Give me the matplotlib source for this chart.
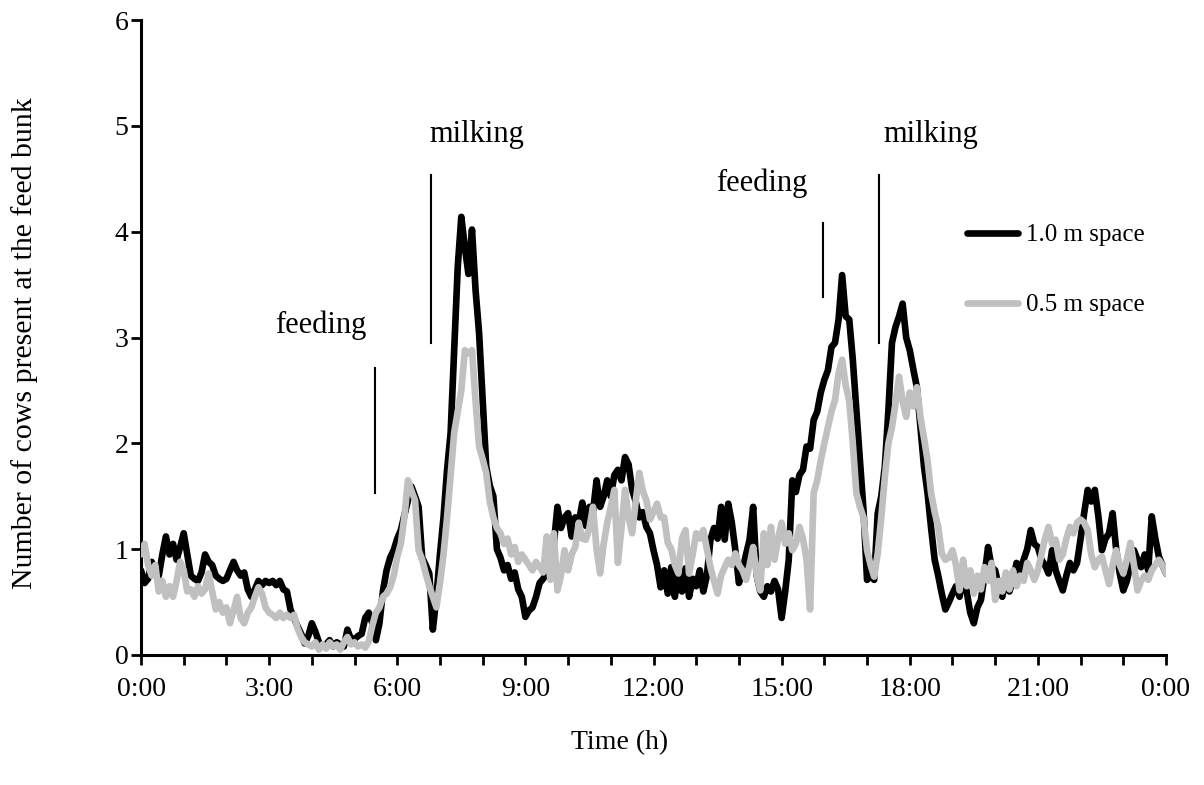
import numpy as np
import matplotlib
matplotlib.use("Agg")
import matplotlib.pyplot as plt

plt.rcParams['font.family'] = ['Liberation Serif', 'DejaVu Serif']

# time in hours, 5-minute steps (0:00 .. 24:00)
hours = np.arange(289) / 12.0

space_1_0 = [
    0.80, 0.68, 0.72, 0.88, 0.80, 0.75, 0.95, 1.12, 0.95, 1.05, 0.90, 1.02,   # 0h
    1.15, 0.95, 0.75, 0.72, 0.70, 0.78, 0.95, 0.88, 0.85, 0.75, 0.72, 0.70,   # 1h
    0.72, 0.80, 0.88, 0.80, 0.75, 0.78, 0.62, 0.55, 0.62, 0.70, 0.66, 0.70,   # 2h
    0.68, 0.70, 0.66, 0.70, 0.62, 0.60, 0.43, 0.35, 0.27, 0.20, 0.11, 0.18,   # 3h
    0.30, 0.22, 0.12, 0.08, 0.10, 0.14, 0.08, 0.12, 0.10, 0.08, 0.24, 0.15,   # 4h
    0.15, 0.18, 0.20, 0.35, 0.40, 0.30, 0.14, 0.30, 0.61, 0.80, 0.92, 0.99,   # 5h
    1.10, 1.18, 1.32, 1.46, 1.59, 1.50, 1.40, 0.92, 0.85, 0.77, 0.24, 0.55,   # 6h
    0.95, 1.30, 1.75, 2.10, 2.88, 3.67, 4.14, 3.85, 3.60, 4.02, 3.45, 3.04,   # 7h
    2.41, 1.78, 1.60, 1.50, 1.00, 0.92, 0.80, 0.85, 0.72, 0.78, 0.62, 0.55,   # 8h
    0.36, 0.42, 0.45, 0.55, 0.68, 0.72, 0.77, 0.95, 1.05, 1.40, 1.20, 1.30,   # 9h
    1.34, 1.12, 1.30, 1.25, 1.44, 1.22, 1.40, 1.35, 1.65, 1.40, 1.50, 1.65,   # 10h
    1.50, 1.70, 1.75, 1.65, 1.87, 1.80, 1.56, 1.45, 1.30, 1.35, 1.21, 1.15,   # 11h
    0.99, 0.85, 0.64, 0.80, 0.58, 0.83, 0.55, 0.78, 0.60, 0.82, 0.55, 0.72,   # 12h
    0.65, 0.80, 0.60, 0.75, 1.09, 1.20, 1.10, 1.40, 1.09, 1.43, 1.25, 0.99,   # 13h
    0.68, 0.80, 0.95, 1.09, 1.40, 0.75, 0.60, 0.55, 0.65, 0.60, 0.70, 0.62,   # 14h
    0.35, 0.60, 0.90, 1.65, 1.54, 1.70, 1.75, 1.97, 1.95, 2.22, 2.30, 2.48,   # 15h
    2.60, 2.69, 2.91, 2.95, 3.17, 3.59, 3.20, 3.17, 2.79, 2.31, 1.84, 1.37,   # 16h
    0.71, 0.75, 0.71, 1.34, 1.50, 1.78, 2.31, 2.95, 3.10, 3.20, 3.32, 3.00,   # 17h
    2.88, 2.70, 2.53, 2.15, 1.78, 1.53, 1.20, 0.90, 0.75, 0.58, 0.43, 0.50,   # 18h
    0.58, 0.65, 0.55, 0.75, 0.60, 0.40, 0.30, 0.45, 0.52, 0.75, 1.02, 0.83,   # 19h
    0.80, 0.65, 0.55, 0.75, 0.60, 0.70, 0.87, 0.80, 0.90, 1.00, 1.18, 1.05,   # 20h
    1.02, 0.90, 0.85, 0.77, 0.99, 0.80, 0.70, 0.61, 0.75, 0.87, 0.80, 0.87,   # 21h
    1.10, 1.34, 1.56, 1.45, 1.56, 1.31, 0.99, 1.10, 1.15, 1.34, 1.00, 0.77,   # 22h
    0.61, 0.70, 0.85, 0.99, 0.90, 0.83, 0.95, 0.80, 1.31, 1.10, 0.93, 0.85,   # 23h
    0.77,
]

space_0_5 = [
    0.95, 1.05, 0.85, 0.75, 0.85, 0.60, 0.70, 0.55, 0.65, 0.55, 0.70, 0.88,   # 0h
    0.80, 0.60, 0.62, 0.55, 0.65, 0.58, 0.62, 0.77, 0.60, 0.43, 0.50, 0.40,   # 1h
    0.45, 0.30, 0.42, 0.55, 0.35, 0.30, 0.40, 0.45, 0.55, 0.64, 0.58, 0.45,   # 2h
    0.40, 0.38, 0.35, 0.40, 0.35, 0.38, 0.35, 0.38, 0.25, 0.17, 0.12, 0.10,   # 3h
    0.08, 0.12, 0.05, 0.10, 0.06, 0.12, 0.08, 0.10, 0.05, 0.12, 0.17, 0.10,   # 4h
    0.12, 0.08, 0.10, 0.07, 0.13, 0.28, 0.40, 0.45, 0.55, 0.58, 0.64, 0.75,   # 5h
    0.93, 1.05, 1.30, 1.65, 1.55, 1.46, 0.99, 0.90, 0.77, 0.65, 0.55, 0.45,   # 6h
    0.68, 0.95, 1.30, 1.70, 2.10, 2.30, 2.50, 2.88, 2.85, 2.88, 2.40, 1.97,   # 7h
    1.85, 1.72, 1.45, 1.30, 1.20, 1.15, 1.05, 1.10, 0.95, 1.02, 0.88, 0.95,   # 8h
    0.90, 0.85, 0.80, 0.88, 0.83, 0.78, 1.12, 0.71, 1.15, 0.61, 0.75, 0.99,   # 9h
    0.80, 0.95, 1.02, 1.25, 1.10, 1.09, 1.20, 1.40, 1.00, 0.77, 1.05, 1.25,   # 10h
    1.40, 1.56, 0.87, 1.20, 1.56, 1.30, 1.15, 1.45, 1.72, 1.55, 1.46, 1.28,   # 11h
    1.35, 1.43, 1.30, 1.30, 1.06, 1.00, 0.85, 0.77, 1.10, 1.18, 0.77, 0.95,   # 12h
    1.15, 1.10, 1.18, 1.00, 0.83, 0.70, 0.58, 0.75, 0.83, 0.90, 0.85, 0.96,   # 13h
    0.85, 0.80, 0.71, 0.85, 1.02, 0.75, 0.61, 1.15, 0.85, 1.21, 0.90, 1.10,   # 14h
    1.25, 1.05, 1.15, 0.99, 1.05, 1.21, 1.10, 0.90, 0.43, 1.53, 1.65, 1.84,   # 15h
    2.00, 2.15, 2.30, 2.41, 2.66, 2.79, 2.55, 2.40, 2.00, 1.53, 1.40, 1.30,   # 16h
    0.99, 0.85, 0.74, 0.96, 1.30, 1.68, 2.00, 2.15, 2.38, 2.63, 2.40, 2.25,   # 17h
    2.48, 2.35, 2.53, 2.25, 2.05, 1.84, 1.53, 1.35, 1.21, 0.96, 0.90, 0.92,   # 18h
    0.99, 0.85, 0.61, 0.90, 0.65, 0.80, 0.58, 0.75, 0.62, 0.83, 0.70, 0.87,   # 19h
    0.52, 0.70, 0.60, 0.78, 0.62, 0.80, 0.65, 0.75, 0.70, 0.87, 0.80, 0.71,   # 20h
    0.80, 0.95, 1.10, 1.21, 1.05, 1.09, 0.90, 0.95, 1.10, 1.21, 1.15, 1.25,   # 21h
    1.28, 1.25, 1.18, 0.95, 0.83, 0.90, 0.93, 0.80, 0.67, 0.85, 0.99, 0.85,   # 22h
    0.77, 0.90, 1.06, 0.85, 0.61, 0.70, 0.75, 0.71, 0.80, 0.85, 0.90, 0.85,   # 23h
    0.77,
]

series_labels = ["1.0 m space", "0.5 m space"]
tick_hours = [0, 3, 6, 9, 12, 15, 18, 21, 24]
tick_labels = ["0:00", "3:00", "6:00", "9:00", "12:00", "15:00", "18:00", "21:00", "0:00"]

# event markers
event_names = ["feeding", "milking", "feeding", "milking"]
event_x = [5.48, 6.78, 15.97, 17.28]
event_y0 = [1.53, 2.95, 3.38, 2.95]
event_y1 = [2.71, 4.54, 4.08, 4.54]
label_x = [4.21, 7.87, 14.54, 18.50]
label_y = [3.12, 4.92, 4.46, 4.92]

fig = plt.figure(figsize=(12.04, 7.85), dpi=100)
ax = fig.add_axes([141/1204, 1 - 655/785, 1025/1204, 635/785])

ax.plot(hours, space_1_0, color='black', lw=4.8, solid_joinstyle='round',
        solid_capstyle='round', label=series_labels[0], zorder=2)
ax.plot(hours, space_0_5, color='#c0c0c0', lw=4.8, solid_joinstyle='round',
        solid_capstyle='round', label=series_labels[1], zorder=3)

for name, x, y0, y1, tx, ty in zip(event_names, event_x, event_y0, event_y1, label_x, label_y):
    ax.plot([x, x], [y0, y1], color='black', lw=1.5, zorder=4)
    ax.text(tx, ty, name, ha='center', va='center', fontsize=22)

ax.set_xlim(0, 24)
ax.set_ylim(0, 6)
ax.set_xticks(tick_hours)
ax.set_xticklabels(tick_labels)
ax.set_xticks(np.arange(0, 25, 1), minor=True)
ax.set_yticks(range(7))

for s in ['top', 'right']:
    ax.spines[s].set_visible(False)
for s in ['left', 'bottom']:
    ax.spines[s].set_linewidth(2.2)

ax.tick_params(axis='both', which='major', direction='out', length=7, width=2,
               labelsize=20)
ax.tick_params(axis='x', which='major', pad=9)
ax.tick_params(axis='x', which='minor', direction='out', length=7, width=2)
ax.tick_params(axis='y', which='major', pad=2)

ax.set_xlabel("Time (h)", fontsize=20)
ax.xaxis.set_label_coords(0.467, -0.118)
ax.set_ylabel("Number of cows present at the feed bunk", fontsize=21.5)
ax.yaxis.set_label_coords(-0.100, 0.491)

leg = ax.legend(loc='center left', bbox_to_anchor=(0.806, 0.606), frameon=False,
                fontsize=18, handlelength=2.05, handletextpad=0.3,
                labelspacing=1.9, borderpad=0, borderaxespad=0)

fig.savefig("out.png", dpi=100)
